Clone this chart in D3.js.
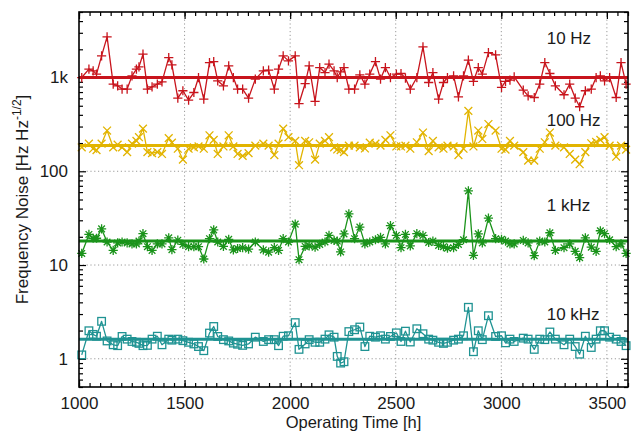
<!DOCTYPE html>
<html>
<head>
<meta charset="utf-8">
<script src="https://cdn.jsdelivr.net/npm/d3@7"></script>
<style>
  html, body { margin: 0; padding: 0; background: #fff; }
  svg { display: block; font-family: "Liberation Sans", Arial, Helvetica, sans-serif; }
</style>
</head>
<body>
<svg id="chart" width="632" height="432"></svg>
<script>
// ---------------- data ----------------
const hours = [
  1013, 1047, 1067, 1083, 1107, 1133, 1162, 1183, 1204, 1228,
  1251, 1272, 1284, 1303, 1324, 1346, 1371, 1393, 1425, 1440,
  1468, 1492, 1519, 1544, 1566, 1591, 1618, 1638, 1657, 1684,
  1709, 1731, 1751, 1775, 1803, 1835, 1873, 1898, 1925, 1945,
  1967, 1992, 2024, 2042, 2071, 2090, 2118, 2140, 2165, 2184,
  2208, 2223, 2239, 2255, 2278, 2305, 2330, 2354, 2377, 2404,
  2428, 2451, 2475, 2503, 2525, 2546, 2569, 2600, 2629, 2656,
  2676, 2703, 2726, 2745, 2774, 2797, 2821, 2844, 2868, 2891,
  2910, 2939, 2973, 3001, 3020, 3041, 3061, 3104, 3127, 3156,
  3182, 3206, 3230, 3256, 3297, 3324, 3350, 3371, 3398, 3426,
  3449, 3469, 3489, 3513, 3544, 3567, 3591
];
const noise10Hz = [
  1000, 1228, 1178, 1087, 1702, 2710, 851, 816, 753, 753,
  1042, 1228, 1300, 1774, 753, 796, 851, 900, 1632, 1365,
  604, 723, 575, 692, 1000, 589, 1445, 1480, 923, 816,
  1332, 1000, 753, 753, 604, 962, 1178, 1199, 753, 1228,
  1702, 1506, 1702, 528, 863, 1332, 556, 1277, 1130, 1389,
  1178, 1000, 1150, 1277, 753, 753, 1069, 851, 1087, 1480,
  962, 1277, 1000, 1087, 1104, 985, 753, 1000, 2120, 885,
  1130, 589, 885, 1000, 1042, 623, 1042, 1531, 908, 1277,
  1087, 1845, 1743, 787, 908, 938, 1017, 735, 638, 612,
  851, 1445, 1104, 816, 655, 851, 604, 488, 723, 753,
  1000, 1042, 923, 1000, 612, 1445, 851
];
const noise100Hz = [
  180, 197, 174, 168, 197, 272, 180, 192, 180, 160,
  197, 211, 231, 285, 160, 156, 160, 153, 226, 202,
  174, 133, 174, 180, 184, 174, 242, 216, 153, 184,
  242, 184, 153, 146, 156, 188, 197, 188, 149, 197,
  285, 231, 211, 116, 211, 204, 133, 197, 211, 231,
  180, 171, 168, 160, 188, 188, 180, 175, 202, 197,
  188, 216, 242, 184, 184, 188, 174, 204, 259, 164,
  211, 180, 174, 188, 184, 149, 174, 441, 184, 272,
  221, 319, 272, 174, 170, 211, 188, 160, 130, 130,
  174, 204, 259, 188, 180, 153, 133, 119, 160, 199,
  206, 216, 231, 188, 143, 188, 170
];
const noise1kHz = [
  13.3, 21.2, 19.3, 19.3, 24.3, 17.6, 14.3, 17.2, 17.6, 17.2,
  16.8, 16.8, 18.0, 21.6, 15.7, 14.3, 16.8, 16.8, 19.5, 14.6,
  18.4, 16.6, 15.7, 15.7, 15.7, 11.6, 19.1, 23.7, 17.6, 15.8,
  18.8, 14.5, 15.0, 15.3, 14.8, 17.6, 14.5, 13.7, 15.3, 14.3,
  19.1, 17.6, 27.3, 11.4, 15.8, 16.0, 15.5, 16.6, 17.6, 20.7,
  18.3, 18.0, 13.8, 21.5, 35.1, 19.1, 25.4, 16.8, 17.6, 18.6,
  19.7, 16.8, 26.3, 20.7, 15.3, 21.2, 16.0, 21.6, 20.7, 17.4,
  18.0, 16.2, 15.7, 15.1, 15.3, 16.6, 18.6, 61.7, 12.7, 21.5,
  17.2, 31.6, 19.1, 18.8, 18.0, 16.8, 16.8, 18.3, 17.2, 12.6,
  18.0, 17.6, 22.1, 14.3, 15.3, 16.8, 14.0, 12.0, 19.5, 15.5,
  14.0, 23.2, 21.6, 18.6, 15.7, 16.8, 13.3
];
const noise10kHz = [
  1.10, 1.99, 1.82, 1.74, 2.51, 1.55, 1.41, 1.38, 1.73, 1.62,
  1.53, 1.50, 1.46, 1.38, 1.39, 1.62, 1.74, 1.41, 1.62, 1.58,
  1.62, 1.56, 1.50, 1.44, 1.35, 1.22, 1.88, 2.21, 1.73, 1.60,
  1.55, 1.47, 1.43, 1.39, 1.44, 1.70, 1.53, 1.60, 1.60, 1.38,
  1.74, 1.76, 2.43, 1.26, 1.44, 1.60, 1.50, 1.50, 1.62, 1.80,
  1.70, 1.06, 0.90, 0.93, 1.95, 2.04, 2.18, 1.35, 1.74, 1.70,
  1.76, 1.62, 1.73, 1.89, 1.53, 1.97, 1.51, 2.09, 1.85, 1.62,
  1.58, 1.50, 1.46, 1.50, 1.58, 1.62, 1.76, 3.54, 1.19, 1.99,
  1.60, 2.88, 1.73, 1.76, 1.48, 1.62, 1.53, 1.66, 1.62, 1.26,
  1.62, 1.60, 1.93, 1.62, 1.41, 1.62, 1.35, 1.12, 1.74, 1.32,
  1.62, 1.99, 1.99, 1.70, 1.62, 1.53, 1.38
];
const seriesNames = ["10 Hz", "100 Hz", "1 kHz", "10 kHz"];
const meanLevels = [1000, 188, 18, 1.62];
const labelHour = 3215;
const xTicks = [1000, 1500, 2000, 2500, 3000, 3500];
const xMinorTicks = d3.range(1000, 3601, 50);
const yTicks = [1, 10, 100, 1000];
const yTickLabels = ["1", "10", "100", "1k"];
const xDomain = [1000, 3600];
const yDomain = [0.5, 5000];

// ---------------- layout ----------------
const W = 632, H = 432;
const m = { left: 79, right: 4, top: 12, bottom: 45 };
const pw = W - m.left - m.right, ph = H - m.top - m.bottom;

const svg = d3.select("#chart");
const g = svg.append("g").attr("transform", `translate(${m.left},${m.top})`);

const x = d3.scaleLinear().domain(xDomain).range([0, pw]);
const y = d3.scaleLog().domain(yDomain).range([ph, 0]);

const yMinor = [];
[0.1, 1, 10, 100, 1000].forEach(dec => {
  for (let k = 2; k <= 9; k++) {
    const v = k * dec;
    if (v >= yDomain[0] && v <= yDomain[1]) yMinor.push(v);
  }
});

const FONT = 17;
const textColor = "#1a1a1a";

// grid
const grid = g.append("g").attr("stroke", "#9a9a9a").attr("stroke-width", 1).attr("stroke-dasharray", "1.2,2.6");
grid.selectAll(".gx").data(xTicks.filter(t => t > xDomain[0] && t < xDomain[1])).join("line")
  .attr("x1", d => x(d)).attr("x2", d => x(d)).attr("y1", 0).attr("y2", ph);
grid.selectAll(".gy").data(yTicks).join("line")
  .attr("x1", 0).attr("x2", pw).attr("y1", d => y(d)).attr("y2", d => y(d));

// axes
function styleAxis(sel, labels) {
  sel.select(".domain").remove();
  sel.selectAll(".tick line").attr("stroke", "#000").attr("stroke-width", 1.2);
  sel.selectAll(".tick text").attr("fill", textColor).attr("font-size", FONT)
     .attr("font-family", '"Liberation Sans", Arial, sans-serif');
  if (!labels) sel.selectAll(".tick text").remove();
}
const gxB = g.append("g").attr("transform", `translate(0,${ph})`)
  .call(d3.axisBottom(x).tickValues(xTicks).tickSize(-7).tickPadding(10).tickFormat(d3.format("d")));
styleAxis(gxB, true);
const gxBm = g.append("g").attr("transform", `translate(0,${ph})`)
  .call(d3.axisBottom(x).tickValues(xMinorTicks).tickSize(-4));
styleAxis(gxBm, false);
const gxT = g.append("g").call(d3.axisTop(x).tickValues(xTicks).tickSize(-7));
styleAxis(gxT, false);
const gxTm = g.append("g").call(d3.axisTop(x).tickValues(xMinorTicks).tickSize(-4));
styleAxis(gxTm, false);

const gyL = g.append("g")
  .call(d3.axisLeft(y).tickValues(yTicks).tickSize(-7).tickPadding(11)
    .tickFormat((d, i) => yTickLabels[i]));
styleAxis(gyL, true);
const gyLm = g.append("g").call(d3.axisLeft(y).tickValues(yMinor).tickSize(-4));
styleAxis(gyLm, false);
const gyR = g.append("g").attr("transform", `translate(${pw},0)`)
  .call(d3.axisRight(y).tickValues(yTicks).tickSize(-7));
styleAxis(gyR, false);
const gyRm = g.append("g").attr("transform", `translate(${pw},0)`)
  .call(d3.axisRight(y).tickValues(yMinor).tickSize(-4));
styleAxis(gyRm, false);

// series
const seriesValues = [noise10Hz, noise100Hz, noise1kHz, noise10kHz];
const colors = ["#c8141c", "#e2b400", "#1a931a", "#1f9393"];
const s = 4.6;
const markerPaths = [
  `M${-s},0H${s}M0,${-s}V${s}`,
  `M${-s*0.85},${-s*0.85}L${s*0.85},${s*0.85}M${-s*0.85},${s*0.85}L${s*0.85},${-s*0.85}`,
  `M${-s},0H${s}M0,${-s}V${s}M${-s*0.72},${-s*0.72}L${s*0.72},${s*0.72}M${-s*0.72},${s*0.72}L${s*0.72},${-s*0.72}`,
  null
];

svg.append("defs").append("clipPath").attr("id", "clip")
  .append("rect").attr("x", 0).attr("y", 0).attr("width", pw).attr("height", ph);

const plot = g.append("g");
const line = d3.line().x(d => x(d[0])).y(d => y(d[1]));

seriesValues.forEach((vals, i) => {
  const pts = hours.map((h, j) => [h, vals[j]]);
  const sg = plot.append("g");
  sg.append("path").datum(pts).attr("d", line)
    .attr("fill", "none").attr("stroke", colors[i]).attr("stroke-width", 1.3)
    .attr("stroke-linejoin", "round").attr("clip-path", "url(#clip)");
  if (markerPaths[i]) {
    sg.selectAll(".mk").data(pts).join("path")
      .attr("transform", d => `translate(${x(d[0])},${y(d[1])})`)
      .attr("d", markerPaths[i]).attr("fill", "none")
      .attr("stroke", colors[i]).attr("stroke-width", 1.3);
  } else {
    const q = 3.8;
    sg.selectAll(".mk").data(pts).join("rect")
      .attr("x", d => x(d[0]) - q).attr("y", d => y(d[1]) - q)
      .attr("width", 2 * q).attr("height", 2 * q)
      .attr("fill", "none").attr("stroke", colors[i]).attr("stroke-width", 1.3);
  }
  sg.append("line")
    .attr("x1", 0).attr("x2", pw)
    .attr("y1", y(meanLevels[i])).attr("y2", y(meanLevels[i]))
    .attr("stroke", colors[i]).attr("stroke-width", 3);
});

// series labels
g.selectAll(".slabel").data(seriesNames).join("text")
  .attr("x", x(labelHour)).attr("y", (d, i) => [31.5, 113.5, 199, 308][i])
  .attr("font-size", FONT).attr("fill", textColor).text(d => d);

// frame
g.append("rect").attr("x", 0).attr("y", 0).attr("width", pw).attr("height", ph)
  .attr("fill", "none").attr("stroke", "#000").attr("stroke-width", 1.6);

// axis titles
svg.append("text").attr("x", m.left + pw / 2).attr("y", 428)
  .attr("text-anchor", "middle").attr("font-size", 16.5).attr("fill", textColor)
  .text("Operating Time [h]");

const yt = svg.append("text")
  .attr("transform", `translate(28,${m.top + ph / 2}) rotate(-90)`)
  .attr("text-anchor", "middle").attr("font-size", FONT).attr("fill", textColor);
yt.append("tspan").text("Frequency Noise [Hz Hz");
yt.append("tspan").attr("font-size", 12).attr("dy", -7).text("-1/2");
yt.append("tspan").attr("dy", 7).text("]");
</script>
</body>
</html>
